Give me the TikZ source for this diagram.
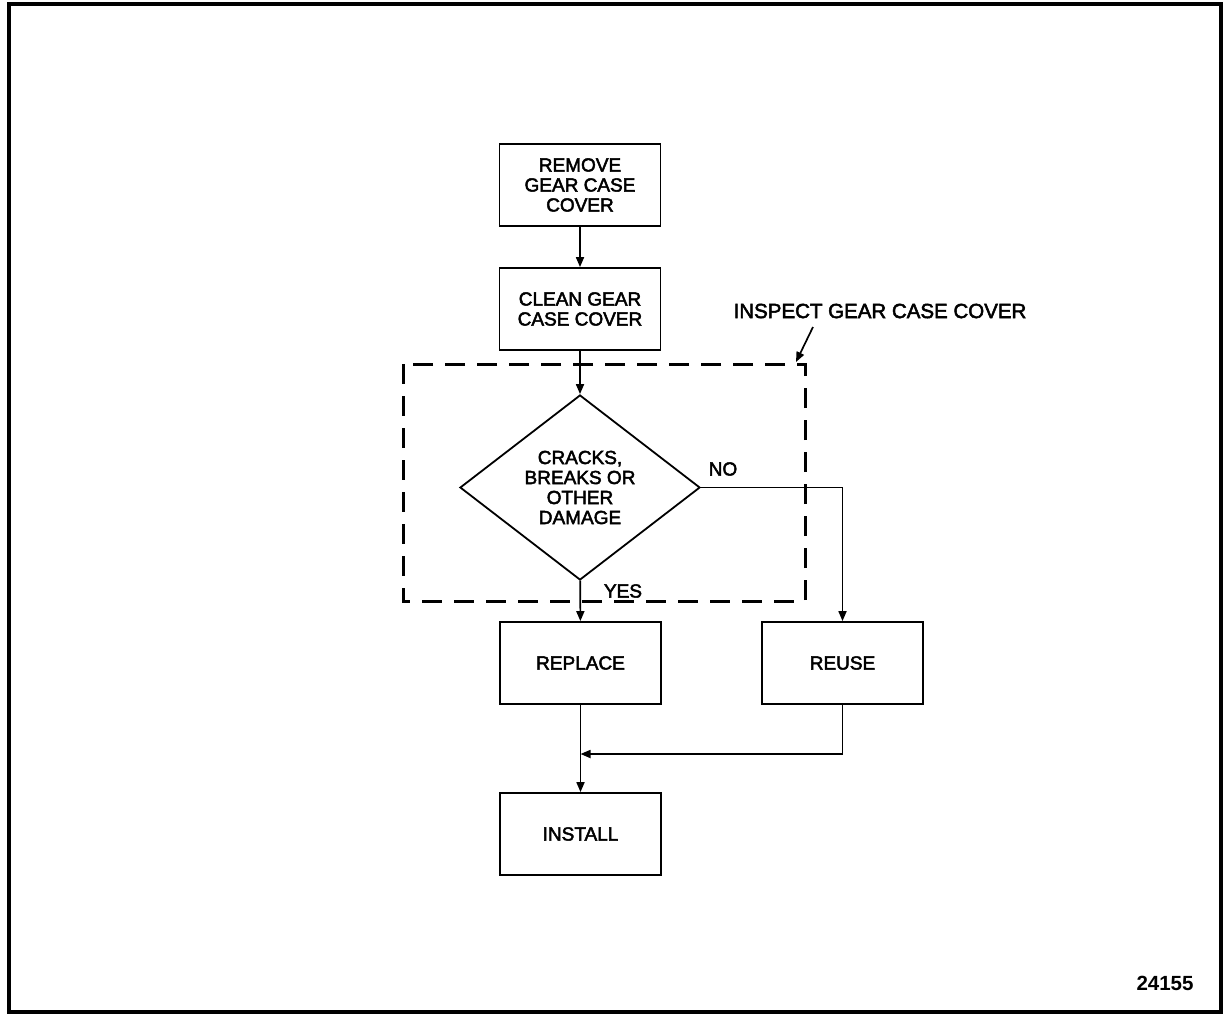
\documentclass[tikz,border=0pt]{standalone}
\usepackage{fontspec}
\setmainfont{Liberation Sans}[BoldFont={Liberation Sans},BoldFeatures={FakeBold=2.5}]
\newfontfamily\heavyfont{Liberation Sans Bold}
\usetikzlibrary{shapes.geometric,arrows.meta}
\begin{document}
\begin{tikzpicture}[x=1pt,y=-1pt,
  every node/.style={font=\fontsize{19}{20}\selectfont\bfseries},
  stepbox/.style={draw,line width=1.8pt,minimum width=161pt,minimum height=82pt,inner sep=0pt,align=center},
  decision/.style={draw,line width=1.8pt,diamond,aspect=1.3,inner sep=0pt,minimum width=240pt,minimum height=185pt,align=center},
  arr/.style={line width=1.7pt,-{Triangle[length=10pt,width=8pt]}},
  groupbox/.style={line width=3pt,dash pattern=on 20pt off 12pt},
  tag/.style={inner sep=0pt,font=\fontsize{20.5}{22}\selectfont\bfseries}]
  \useasboundingbox (0,0) rectangle (1224,1018);
  % outer frame
  \draw[line width=3.5pt] (9,4) rectangle (1221,1012);

  % process steps
  \node[stepbox] (remove) at (580,185) {REMOVE\\GEAR CASE\\COVER};
  \node[stepbox] (clean) at (580,309) {CLEAN GEAR\\CASE COVER};
  \node[decision] (dmg) at (580,487.5) {CRACKS,\\BREAKS OR\\OTHER\\DAMAGE};
  \node[stepbox] (replace) at (580.5,663) {REPLACE};
  \node[stepbox] (reuse) at (842.5,663) {REUSE};
  \node[stepbox] (install) at (580.5,834) {INSTALL};

  % inspection group
  \coordinate (g1) at (403,364);
  \coordinate (g2) at (805,601);
  \draw[groupbox] (g1) rectangle (g2);
  \node[tag] (inspect) at (880,311) {INSPECT GEAR CASE COVER};
  \coordinate (gcorner) at (796,362);
  \coordinate (lead) at (813,327);
  \draw[arr] (lead) -- (gcorner);

  % branch labels
  \node[inner sep=0pt] (no) at (723,469) {NO};
  \node[inner sep=0pt] (yes) at (623,591) {YES};

  % connectors
  \draw[arr] (remove) -- (clean);
  \draw[arr] (clean) -- (dmg);
  \draw[arr] (dmg) -- (replace);
  \draw[arr] (dmg.east) -| (reuse.north);
  \coordinate (join) at (580.5,754);
  \draw[arr] (reuse.south) |- (join);
  \draw[arr] (replace) -- (install);

  % figure number
  \node[tag,font=\fontsize{20.5}{22}\selectfont\heavyfont] (fignum) at (1165,983.5) {24155};
\end{tikzpicture}
\end{document}
